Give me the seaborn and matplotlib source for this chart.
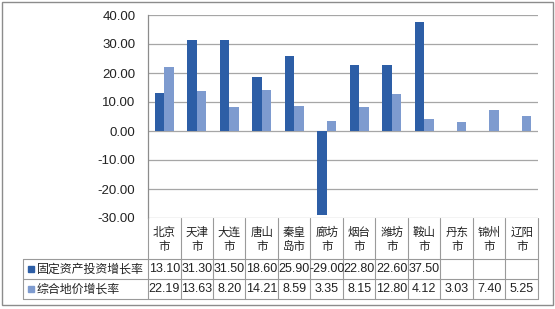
import numpy as np
import pandas as pd
import matplotlib
matplotlib.use("Agg")
import matplotlib.pyplot as plt
import seaborn as sns
from matplotlib.transforms import blended_transform_factory
from matplotlib.lines import Line2D
from matplotlib.patches import Rectangle

cities = ["北京市", "天津市", "大连市", "唐山市", "秦皇岛市", "廊坊市",
          "烟台市", "潍坊市", "鞍山市", "丹东市", "锦州市", "辽阳市"]
header_lines = ["北京\n市", "天津\n市", "大连\n市", "唐山\n市", "秦皇\n岛市", "廊坊\n市",
                "烟台\n市", "潍坊\n市", "鞍山\n市", "丹东\n市", "锦州\n市", "辽阳\n市"]
series_names = ["固定资产投资增长率", "综合地价增长率"]
invest = [13.10, 31.30, 31.50, 18.60, 25.90, -29.00, 22.80, 22.60, 37.50, np.nan, np.nan, np.nan]
land = [22.19, 13.63, 8.20, 14.21, 8.59, 3.35, 8.15, 12.80, 4.12, 3.03, 7.40, 5.25]
yticks = [40, 30, 20, 10, 0, -10, -20, -30]
colors = ["#2D5EA6", "#7E9BCF"]

df = pd.DataFrame({
    "city": cities * 2,
    "series": [series_names[0]] * len(cities) + [series_names[1]] * len(cities),
    "value": invest + land,
})

sns.set_theme(style="white")
plt.rcParams["font.family"] = ["Noto Sans CJK SC", "DejaVu Sans"]

W, H = 555, 309
fig = plt.figure(figsize=(W / 100, H / 100), dpi=100)
fig.patch.set_facecolor("white")

def fx(px):
    return px / W

def fy(py):
    return 1 - py / H

ax_l, ax_r, ax_t, ax_b = 148, 538, 15, 218
ax = fig.add_axes([fx(ax_l), fy(ax_b), fx(ax_r) - fx(ax_l), fy(ax_t) - fy(ax_b)])

sns.barplot(data=df, x="city", y="value", hue="series", palette=colors,
            width=0.58, gap=0, ax=ax, legend=False, saturation=1,
            edgecolor="none")

ax.set_ylim(-30, 40)
ax.set_xlim(-0.5, len(cities) - 0.5)
ax.set_yticks(yticks)
ax.set_yticklabels([f"{v:.2f}" for v in yticks], fontsize=9.5, color="#222222",
                   family=["Liberation Sans", "DejaVu Sans"])
ax.set_xticks([])
ax.set_xlabel("")
ax.set_ylabel("")
for v in yticks:
    ax.axhline(v, color="#A6A6A6", lw=0.9, zorder=0)
for s in ["top", "right", "bottom"]:
    ax.spines[s].set_visible(False)
ax.spines["left"].set_color("#8C8C8C")
ax.spines["left"].set_linewidth(0.9)
ax.tick_params(axis="y", length=0, pad=9)
ax.set_facecolor("none")

# data table beneath the chart
trans = blended_transform_factory(ax.transData, fig.transFigure)
line_c = "#9A9A9A"
head_top, head_bot, r1_bot, r2_bot = 218, 259, 279, 299
leg_left = 23

for py, x0 in [(head_bot, leg_left), (r1_bot, leg_left), (r2_bot, leg_left)]:
    fig.add_artist(Line2D([fx(x0), fx(ax_r)], [fy(py), fy(py)], color=line_c, lw=0.8))
n = len(cities)
for i in range(n + 1):
    xv = i - 0.5
    fig.add_artist(Line2D([xv, xv], [fy(head_top), fy(r2_bot)], color=line_c, lw=0.8,
                          transform=trans))
fig.add_artist(Line2D([fx(leg_left), fx(leg_left)], [fy(head_bot), fy(r2_bot)],
                      color=line_c, lw=0.8))

tfont = ["Noto Sans CJK SC", "DejaVu Sans"]
for i, h in enumerate(header_lines):
    fig.text(i, fy((head_top + head_bot) / 2 + 1), h, transform=trans, ha="center",
             va="center", fontsize=8.3, color="#222222", family=tfont, linespacing=1.1)

def fmt(v):
    return "" if np.isnan(v) else f"{v:.2f}"

for row, (vals, top, bot) in enumerate([(invest, head_bot, r1_bot), (land, r1_bot, r2_bot)]):
    for i, v in enumerate(vals):
        fig.text(i, fy((top + bot) / 2), fmt(v), transform=trans, ha="center",
                 va="center", fontsize=9, color="#222222",
                 family=["Liberation Sans", "DejaVu Sans"])
    cy = (top + bot) / 2
    fig.add_artist(Rectangle((fx(28), fy(cy + 3)), fx(6), fy(cy - 3) - fy(cy + 3),
                             color=colors[row]))
    fig.text(fx(37), fy(cy), series_names[row], ha="left", va="center", fontsize=8.6,
             color="#222222", family=tfont)

fig.add_artist(Rectangle((fx(2), fy(305)), fx(551), fy(2) - fy(305), fill=False,
                         edgecolor="#8C8C8C", lw=1.0))

fig.savefig("out.png", dpi=100)
